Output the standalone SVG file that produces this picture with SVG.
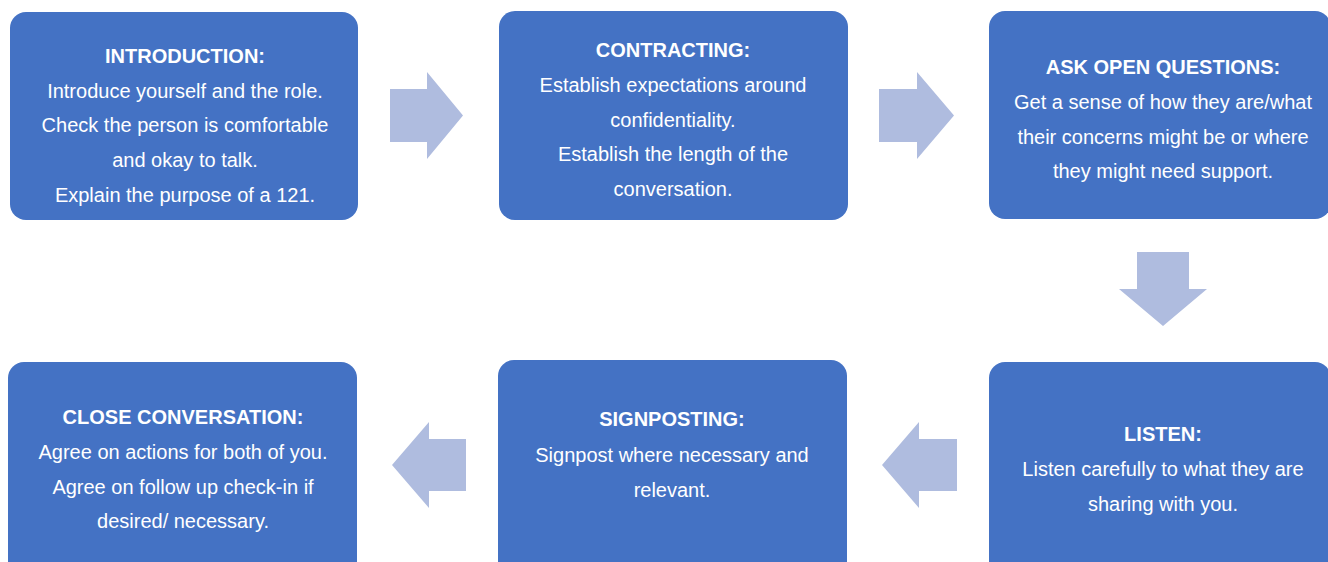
<svg xmlns="http://www.w3.org/2000/svg" width="1328" height="562" viewBox="0 0 1328 562">
  <style>
    .box { fill: #4472C4; }
    .arrow { fill: #AFBCDF; }
    text { font-family: "Liberation Sans", Arial, sans-serif; font-size: 20px; fill: #FFFFFF; text-anchor: middle; }
    .title { font-weight: bold; }
  </style>
  <rect width="1328" height="562" fill="#FFFFFF"/>

  <!-- Connectors: block arrows between steps -->
  <g id="connectors">
    <polygon class="arrow" points="390,89 427,89 427,72 463,115.5 427,159 427,142 390,142"/>
    <polygon class="arrow" points="879,89 917,89 917,72 954,115.5 917,159 917,142 879,142"/>
    <polygon class="arrow" points="1137,252 1189,252 1189,289 1207,289 1163,326 1119,289 1137,289"/>
    <polygon class="arrow" points="957,439 919,439 919,422 882,465 919,508 919,491 957,491"/>
    <polygon class="arrow" points="466,439 429,439 429,422 392,465 429,508 429,491 466,491"/>
  </g>

  <g id="introduction">
    <rect class="box" x="10" y="12" width="348" height="208" rx="16"/>
    <text class="title" x="185" y="63">INTRODUCTION:</text>
    <text x="185" y="98">Introduce yourself and the role.</text>
    <text x="185" y="132">Check the person is comfortable</text>
    <text x="185" y="167">and okay to talk.</text>
    <text x="185" y="202">Explain the purpose of a 121.</text>
  </g>

  <g id="contracting">
    <rect class="box" x="499" y="11" width="349" height="209" rx="16"/>
    <text class="title" x="673" y="57">CONTRACTING:</text>
    <text x="673" y="92">Establish expectations around</text>
    <text x="673" y="127">confidentiality.</text>
    <text x="673" y="161">Establish the length of the</text>
    <text x="673" y="196">conversation.</text>
  </g>

  <g id="ask-open-questions">
    <rect class="box" x="989" y="11" width="342" height="208" rx="16"/>
    <text class="title" x="1163" y="74">ASK OPEN QUESTIONS:</text>
    <text x="1163" y="109">Get a sense of how they are/what</text>
    <text x="1163" y="144">their concerns might be or where</text>
    <text x="1163" y="178">they might need support.</text>
  </g>

  <g id="listen">
    <rect class="box" x="989" y="362" width="342" height="220" rx="16"/>
    <text class="title" x="1163" y="441">LISTEN:</text>
    <text x="1163" y="476">Listen carefully to what they are</text>
    <text x="1163" y="511">sharing with you.</text>
  </g>

  <g id="signposting">
    <rect class="box" x="498" y="360" width="349" height="222" rx="16"/>
    <text class="title" x="672" y="426">SIGNPOSTING:</text>
    <text x="672" y="462">Signpost where necessary and</text>
    <text x="672" y="497">relevant.</text>
  </g>

  <g id="close-conversation">
    <rect class="box" x="8" y="362" width="349" height="220" rx="16"/>
    <text class="title" x="183" y="424">CLOSE CONVERSATION:</text>
    <text x="183" y="459">Agree on actions for both of you.</text>
    <text x="183" y="494">Agree on follow up check-in if</text>
    <text x="183" y="528">desired/ necessary.</text>
  </g>
</svg>
